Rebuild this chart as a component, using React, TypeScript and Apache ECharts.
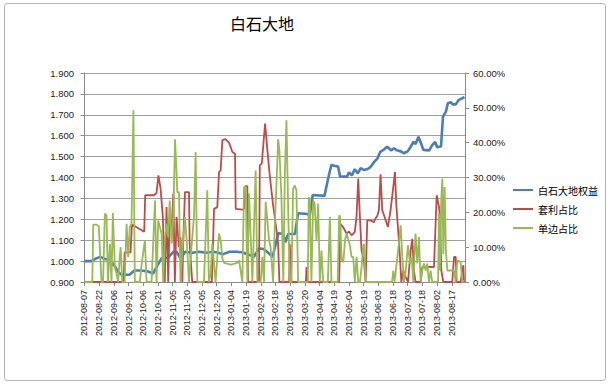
import React, { useEffect, useRef } from "react";
import * as echarts from "echarts";

const title = "白石大地";
const seriesNames = ["白石大地权益", "套利占比", "单边占比"];

const tickLabels = [
  "2012-08-07", "2012-08-22", "2012-09-06", "2012-09-21", "2012-10-06", "2012-10-21",
  "2012-11-05", "2012-11-20", "2012-12-05", "2012-12-20", "2013-01-04", "2013-01-19",
  "2013-02-03", "2013-02-18", "2013-03-05", "2013-03-20", "2013-04-04", "2013-04-19",
  "2013-05-04", "2013-05-19", "2013-06-03", "2013-06-18", "2013-07-03", "2013-07-18",
  "2013-08-02", "2013-08-17",
];

// days since 2012-08-07
const equityDays = [0, 7, 12, 16, 21, 26, 31, 35, 38, 46, 51, 58, 65, 70, 74, 79, 85, 91, 94, 98, 103, 110, 117, 124, 131, 137, 141, 148, 155, 161, 167, 173, 178, 183, 188, 192, 198, 203, 205, 208, 215, 218, 228, 230, 233, 245, 249, 252, 256, 259, 261, 268, 270, 273, 276, 279, 282, 285, 289, 292, 296, 299, 302, 306, 309, 313, 316, 319, 323, 326, 330, 333, 336, 338, 341, 343, 346, 352, 355, 358, 360, 364, 366, 369, 371, 374, 376, 379, 382, 384, 388];
const equityValues = [1.0, 1.0, 1.013, 1.02, 1.01, 1.005, 0.975, 0.945, 0.935, 0.935, 0.955, 0.955, 0.95, 0.94, 0.975, 1.015, 1.015, 1.045, 1.045, 1.013, 1.045, 1.04, 1.045, 1.04, 1.045, 1.04, 1.032, 1.045, 1.045, 1.042, 1.032, 1.021, 1.06, 1.058, 1.038, 1.02, 1.134, 1.13, 1.09, 1.13, 1.13, 1.229, 1.225, 1.215, 1.316, 1.312, 1.4, 1.46, 1.455, 1.452, 1.404, 1.404, 1.425, 1.41, 1.44, 1.42, 1.445, 1.436, 1.44, 1.45, 1.476, 1.49, 1.523, 1.535, 1.547, 1.53, 1.54, 1.53, 1.525, 1.516, 1.525, 1.547, 1.571, 1.56, 1.595, 1.571, 1.532, 1.53, 1.555, 1.57, 1.545, 1.548, 1.691, 1.715, 1.755, 1.76, 1.75, 1.75, 1.771, 1.775, 1.785];

const arbDays = [0, 40, 41, 47, 48.5, 61, 62, 71, 73.6, 75.5, 77.7, 80, 82, 83.8, 85.5, 87, 89, 90.7, 92.3, 94, 96.5, 98, 99.9, 101, 102.6, 106.7, 107.4, 110, 130, 132.3, 135.6, 137.4, 139, 140.8, 144, 147.6, 151, 153.7, 154.4, 161.2, 162.9, 164, 166.3, 167, 178.2, 179, 181, 184.4, 186.7, 189, 192.6, 196, 197.7, 199, 209, 209.6, 211.3, 226, 226.7, 228, 260, 261.4, 264, 267.6, 270, 272.7, 276, 277.8, 279.5, 281.2, 282.9, 285.3, 287, 288.7, 292, 295.5, 297, 299, 300.6, 302.3, 304, 306.4, 309.8, 312.5, 315.3, 317, 318.3, 320, 321.7, 323.5, 325.5, 328, 330.3, 333, 334.7, 336.4, 338, 343.2, 344.9, 356.8, 359.6, 362, 363, 364.3, 366.4, 375.5, 377.3, 379, 380, 384, 385.8, 386.8, 387.5];
const arbValues = [0, 0, 8.5, 8.5, 16.5, 14.4, 24.9, 24.9, 25.6, 30.6, 26.8, 18.7, 0, 21.5, 0, 18.7, 14.8, 25.4, 0, 18.7, 10, 12.9, 0, 13, 25.8, 25.8, 11, 0, 0, 21, 21.5, 31.6, 32, 40.7, 41, 40, 37.3, 36.8, 21, 20.8, 21, 27.5, 27.5, 0, 0, 33.5, 34, 45.5, 38, 31, 22, 15, 11, 0, 0, 11, 0, 0, 4.3, 0, 0, 16.7, 15.8, 13.9, 14.5, 13.4, 14.4, 19, 29.7, 18.7, 9, 6.2, 0, 17.7, 17.7, 17.2, 18.2, 19, 20.6, 30.9, 20.6, 18.7, 15.8, 20.6, 27.3, 31.6, 22.5, 15.8, 9, 0, 3.3, 1.4, 0, 9, 12.4, 3.3, 0, 0, 4.3, 4.3, 24.9, 21.5, 18.7, 3.3, 0, 0, 7.2, 7.2, 0, 0, 3.3, 4.8, 0];

const directDays = [0, 8, 9, 12, 14.6, 17.4, 19, 20.8, 22.5, 24, 26, 27.6, 29, 31, 32.7, 34.4, 36, 37, 38.5, 41, 43, 44.7, 46.3, 48, 50, 51.4, 56.5, 58, 61.7, 63.4, 68.5, 72, 73.6, 75.3, 78.7, 80.4, 82, 83.8, 85.5, 87, 89, 90.7, 92.5, 94.8, 96.5, 98, 99.9, 102.6, 104.6, 106.7, 108.4, 111.8, 113.5, 115.2, 122, 125.4, 127, 128.8, 130.5, 133.9, 137.3, 139, 140.8, 142.5, 149.3, 156.1, 157.8, 161.2, 162.9, 164.6, 166.3, 168, 169.7, 171.4, 174.8, 176.5, 179.9, 181.6, 183.3, 185, 186.7, 188.5, 190, 192.6, 194, 196.7, 197.7, 199, 201, 203, 204.5, 206.2, 207.9, 209.6, 211.3, 213, 214.7, 216.4, 218.1, 228, 229, 230, 231.7, 233.5, 235, 236.9, 238.6, 240.3, 242, 243.7, 248.5, 250.5, 252.2, 258.5, 260, 260.8, 262.6, 264.3, 266, 267.6, 271, 272.7, 274.4, 276, 277.8, 279.5, 281.2, 282.9, 284.6, 285.3, 287, 314, 315.3, 316.6, 318.7, 321, 322.8, 324.5, 326.2, 328, 330.3, 332.3, 334, 335.7, 338, 339.8, 341.5, 343.2, 344.9, 346.6, 348.3, 350, 351.7, 353.4, 355, 361, 362, 363, 364.3, 365.4, 366.4, 367.7, 369, 370.5, 377.3, 379, 380.7, 384, 385.8, 387.5];
const directValues = [0, 0, 16.5, 16.5, 16, 0, 0, 19.6, 19.1, 0, 11, 0, 19.8, 4.3, 2.4, 0, 7.2, 10, 0, 0, 16.7, 7.2, 15.8, 16.7, 49.3, 0, 0, 4.3, 12, 0, 0, 23.4, 0, 17.7, 13.9, 0, 12, 16.7, 12.9, 23.4, 11, 18.7, 41, 25.8, 25.8, 0, 9, 18.7, 11, 0, 7.2, 18.7, 37.3, 0, 0, 26.3, 0, 2.4, 11, 0, 13.9, 12, 6.7, 5.5, 5, 5.5, 6.2, 0, 27.3, 27.3, 0, 25.4, 12.9, 0, 32, 0, 0, 7.2, 0, 23, 17.7, 12, 10, 0, 13.9, 33, 41, 37.8, 25, 0, 30, 46.4, 22, 0, 0, 26.8, 27.7, 26.3, 0, 0, 24.4, 23.4, 0, 23.4, 22.5, 12, 22.5, 0, 9, 0, 0, 18.7, 0, 0, 19, 19, 6.2, 5.7, 12, 14, 10.5, 7.2, 7.2, 0, 7.2, 0, 0, 4.3, 10, 11, 0, 0, 3.3, 0, 5.3, 11, 16.3, 7.2, 0, 3.3, 10.5, 5.3, 7.2, 0, 13.9, 5.3, 12.9, 0, 3.3, 5.3, 3.3, 5.3, 0, 3.3, 0, 0, 19.6, 3.3, 24, 29.7, 8, 27.3, 9, 3.3, 3.3, 0, 6.2, 5.7, 0, 0.5];

const colors = ["#4a7ebb", "#be4b48", "#98b954"];
const DAY = 86400000;
const startMs = Date.parse(tickLabels[0] + "T00:00:00Z");
const tickDays = tickLabels.map((s) => Math.round((Date.parse(s + "T00:00:00Z") - startMs) / DAY));

const font = "'Liberation Sans', 'Noto Sans CJK SC', sans-serif";
const cjk = "'Noto Sans CJK SC', sans-serif";

export default function App() {
  const ref = useRef<HTMLDivElement>(null);
  useEffect(() => {
    if (!ref.current) return;
    const chart = echarts.init(ref.current, undefined, { renderer: "svg" });
    const pair = (d: number[], v: number[]) => d.map((x, i) => [x, v[i]]);
    const gray = "#8c8c8c";
    chart.setOption({
      animation: false,
      backgroundColor: "#ffffff",
      textStyle: { fontFamily: font },
      graphic: [
        {
          type: "rect",
          shape: { x: 4.5, y: 3.5, width: 601, height: 377, r: 3 },
          style: { fill: "none", stroke: "#b4b4b4", lineWidth: 1 },
          silent: true,
        },
        {
          type: "text",
          x: 262,
          y: 23,
          style: {
            text: title,
            fontFamily: cjk,
            fontSize: 16,
            fill: "#000",
            align: "center",
            verticalAlign: "middle",
          },
        },
      ],
      legend: {
        orient: "vertical",
        left: 513,
        top: 184,
        padding: 0,
        itemWidth: 20,
        itemHeight: 2,
        itemGap: 7,
        icon: "rect",
        data: seriesNames,
        textStyle: { fontFamily: cjk, fontSize: 10, color: "#000", lineHeight: 12 },
      },
      grid: { left: 83, right: 148, top: 73, bottom: 102, containLabel: false },
      xAxis: {
        type: "value",
        min: -1.5,
        max: 388.5,
        splitLine: { show: false },
        axisLine: { show: true, onZero: false, lineStyle: { color: gray } },
        axisTick: { show: true, length: 4, customValues: tickDays, lineStyle: { color: gray } },
        axisLabel: {
          customValues: tickDays,
          rotate: 90,
          fontSize: 9,
          color: "#222",
          margin: 8,
          formatter: (v: number) => {
            const i = tickDays.indexOf(Math.round(v));
            return i >= 0 ? tickLabels[i] : "";
          },
        },
      },
      yAxis: [
        {
          type: "value",
          min: 0.9,
          max: 1.9,
          interval: 0.1,
          axisLine: { show: true, lineStyle: { color: gray } },
          axisTick: { show: true, length: 4, lineStyle: { color: gray } },
          splitLine: { show: true, lineStyle: { color: "#a0a0a0", width: 1 } },
          axisLabel: {
            fontSize: 9.5,
            color: "#222",
            margin: 9,
            formatter: (v: number) => v.toFixed(3),
          },
        },
        {
          type: "value",
          position: "right",
          min: 0,
          max: 60,
          interval: 10,
          axisLine: { show: true, lineStyle: { color: gray } },
          axisTick: { show: true, length: 4, lineStyle: { color: gray } },
          splitLine: { show: false },
          axisLabel: {
            fontSize: 9.5,
            color: "#222",
            margin: 8,
            formatter: (v: number) => v.toFixed(2) + "%",
          },
        },
      ],
      series: [
        {
          name: seriesNames[0],
          type: "line",
          yAxisIndex: 0,
          showSymbol: false,
          data: pair(equityDays, equityValues),
          lineStyle: { color: colors[0], width: 2.6 },
          itemStyle: { color: colors[0] },
          z: 2,
        },
        {
          name: seriesNames[1],
          type: "line",
          yAxisIndex: 1,
          showSymbol: false,
          data: pair(arbDays, arbValues),
          lineStyle: { color: colors[1], width: 1.8 },
          itemStyle: { color: colors[1] },
          z: 3,
        },
        {
          name: seriesNames[2],
          type: "line",
          yAxisIndex: 1,
          showSymbol: false,
          data: pair(directDays, directValues),
          lineStyle: { color: colors[2], width: 1.8 },
          itemStyle: { color: colors[2] },
          z: 4,
        },
      ],
    });
    return () => chart.dispose();
  }, []);
  return (
    <div
      ref={ref}
      style={{ position: "absolute", left: 0, top: 0, width: 613, height: 384 }}
    />
  );
}
